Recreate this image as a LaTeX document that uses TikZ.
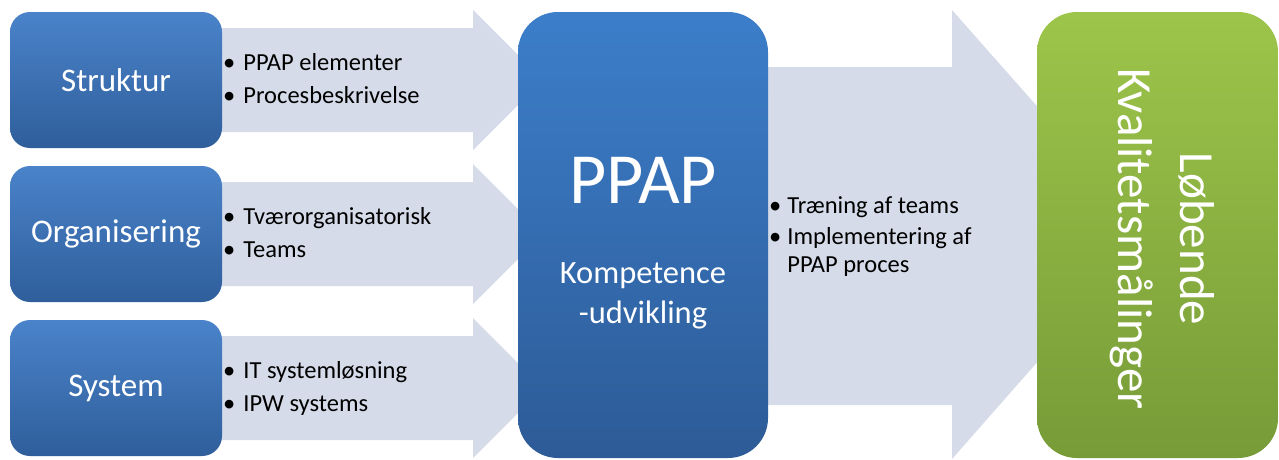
\documentclass[tikz,border=0pt]{standalone}
\usepackage{fontspec}
\setmainfont{Carlito}
\usetikzlibrary{calc}

\definecolor{boxtop}{RGB}{74,131,202}
\definecolor{boxbot}{RGB}{47,94,155}
\definecolor{ppaptop}{RGB}{60,126,202}
\definecolor{ppapbot}{RGB}{45,91,151}
\definecolor{greentop}{RGB}{157,197,74}
\definecolor{greenbot}{RGB}{119,155,56}
\definecolor{arrowfill}{RGB}{213,219,232}

\tikzset{
	sidebox/.style={rounded corners=20pt, top color=boxtop, bottom color=boxbot,
		minimum width=212pt, minimum height=136pt, inner sep=0pt,
		text=white, font=\fontsize{33}{38}\selectfont},
	bigbox/.style={rounded corners=40pt, minimum height=446pt, inner sep=0pt},
	bullets/.style={anchor=west, inner sep=0pt, font=\fontsize{24.5}{33}\selectfont},
}

\begin{document}
\begin{tikzpicture}[x=1pt, y=-1pt]
		%%%%% START %%%%%
		\useasboundingbox (0,0) rectangle (1279,459);
		
		% arrows behind the boxes
		\foreach \y in {80,234,388}
			\fill[arrowfill] (200,\y-52) -- (473,\y-52) -- (473,\y-70) -- (543,\y)
				-- (473,\y+70) -- (473,\y+52) -- (200,\y+52) -- cycle;
		\fill[arrowfill] (740,67) -- (952,67) -- (952,10) -- (1150,234)
			-- (952,459) -- (952,405) -- (740,405) -- cycle;
		
		% left boxes
		\node[sidebox] (struktur) at (116,80) {Struktur};
		\node[sidebox] (organisering) at (116,234) {Organisering};
		\node[sidebox] (system) at (116,388) {System};
		
		\node[bullets] (strukturtxt) at (223,80) {\begin{tabular}{@{}l@{\hspace{8pt}}l@{}}
			\textbullet & PPAP elementer\\ \textbullet & Procesbeskrivelse\end{tabular}};
		\node[bullets] (organiseringtxt) at (223,234) {\begin{tabular}{@{}l@{\hspace{8pt}}l@{}}
			\textbullet & Tværorganisatorisk\\ \textbullet & Teams\end{tabular}};
		\node[bullets] (systemtxt) at (223,388) {\begin{tabular}{@{}l@{\hspace{8pt}}l@{}}
			\textbullet & IT systemløsning\\ \textbullet & IPW systems\end{tabular}};
		
		% center box
		\node[bigbox, minimum width=250pt, top color=ppaptop, bottom color=ppapbot] (ppap) at (643,235) {};
		\node[anchor=base, text=white, font=\fontsize{72}{84}\selectfont] (ppaptitle) at (643,203) {PPAP};
		\node[anchor=base, text=white, font=\fontsize{32.5}{40}\selectfont] (kompetence) at (643,283) {Kompetence};
		\node[anchor=base, text=white, font=\fontsize{32.5}{40}\selectfont] (udvikling) at (643,323) {-udvikling};
		
		\node[bullets, font=\fontsize{24.5}{28}\selectfont] (ppaptxt) at (769,237) {\begin{tabular}{@{}l@{\hspace{6pt}}l@{}}
			\textbullet & Træning af teams\\[3pt] \textbullet & Implementering af\\ & PPAP proces\end{tabular}};
		
		% right box
		\node[bigbox, minimum width=241pt, top color=greentop, bottom color=greenbot] (maaling) at (1157.5,235) {};
		\node[rotate=-90, align=center, text=white, font=\fontsize{49}{62}\selectfont] (maalingtxt) at (1162,239) {Løbende\\Kvalitetsmålinger};
		
		%%%%% END %%%%%
	\end{tikzpicture}
\end{document}
